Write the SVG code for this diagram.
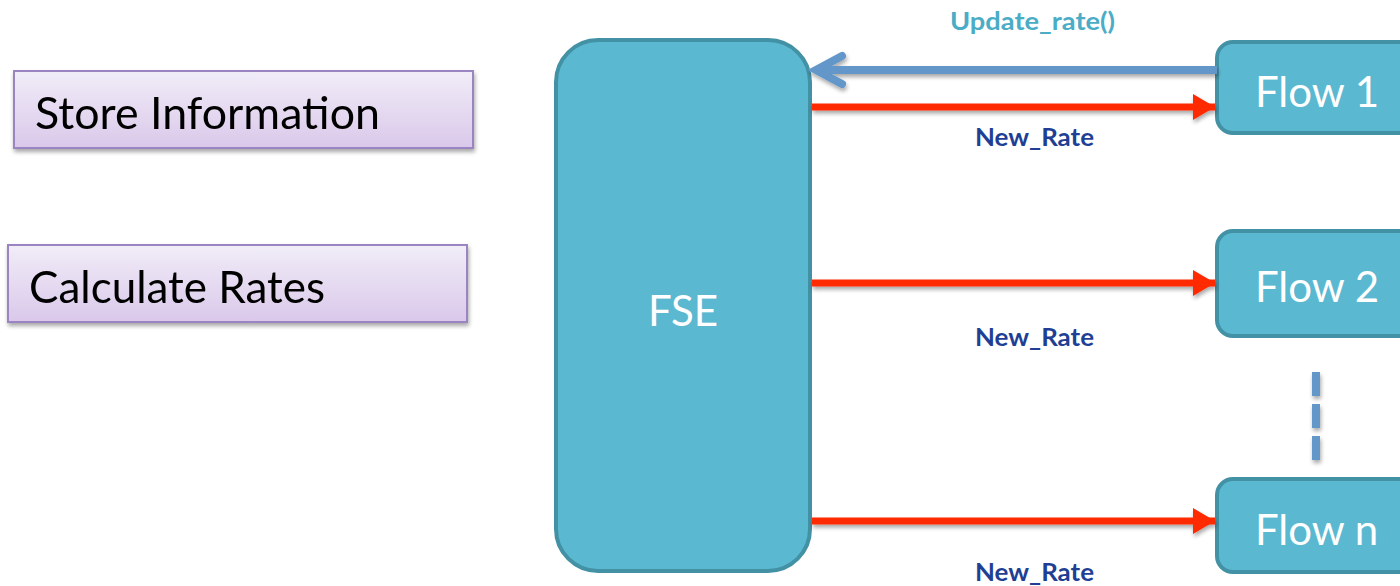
<svg xmlns="http://www.w3.org/2000/svg" width="1400" height="586" viewBox="0 0 1400 586">
  <defs>
    <linearGradient id="lav" x1="0" y1="0" x2="0" y2="1">
      <stop offset="0" stop-color="#f1edf8"/>
      <stop offset="1" stop-color="#dac8ea"/>
    </linearGradient>
    <filter id="shadow" x="-10%" y="-20%" width="120%" height="150%">
      <feGaussianBlur in="SourceAlpha" stdDeviation="2"/>
      <feOffset dx="1" dy="3" result="b"/>
      <feComponentTransfer><feFuncA type="linear" slope="0.35"/></feComponentTransfer>
      <feMerge><feMergeNode/><feMergeNode in="SourceGraphic"/></feMerge>
    </filter>
    <marker id="redHead" markerUnits="userSpaceOnUse" markerWidth="24" markerHeight="28" refX="22" refY="13" orient="auto">
      <path d="M0,0 L22,13 L0,26 Z" fill="#ff2a00"/>
    </marker>
  </defs>
  <style>
    .task { fill: url(#lav); stroke: #9b84c2; stroke-width: 2; }
    .task-text { font-family: Lato, "Open Sans", sans-serif; font-size: 44px; fill: #000; }
    .block { fill: #5bb8d1; stroke: #4391a4; stroke-width: 4; }
    .block-text { font-family: Lato, "Open Sans", sans-serif; font-size: 42px; fill: #fff; }
    .rate { stroke: #ff2a00; stroke-width: 7; fill: none; }
    .update { stroke: #6396c9; stroke-width: 8; fill: none; }
    .lbl { font-family: Lato, "Open Sans", sans-serif; font-weight: bold; font-size: 25px; }
  </style>

  <!-- left task boxes -->
  <g id="store-information" filter="url(#shadow)">
    <rect class="task" x="14" y="71" width="459" height="77"/>
    <text class="task-text" x="35" y="129" textLength="345" lengthAdjust="spacingAndGlyphs">Store Information</text>
  </g>
  <g id="calculate-rates" filter="url(#shadow)">
    <rect class="task" x="8" y="245" width="459" height="77"/>
    <text class="task-text" x="29" y="303" textLength="296" lengthAdjust="spacingAndGlyphs">Calculate Rates</text>
  </g>

  <!-- central estimator -->
  <g id="fse">
    <rect class="block" x="556" y="40" width="254" height="531" rx="42" ry="42"/>
    <text class="block-text" x="683" y="326" text-anchor="middle">FSE</text>
  </g>

  <!-- flows -->
  <g id="flow-1">
    <rect class="block" x="1217" y="42" width="200" height="91" rx="16" ry="16"/>
    <text class="block-text" x="1255" y="107">Flow 1</text>
  </g>
  <g id="flow-2">
    <rect class="block" x="1217" y="231" width="200" height="105" rx="16" ry="16"/>
    <text class="block-text" x="1255" y="302">Flow 2</text>
  </g>
  <g id="flow-n">
    <rect class="block" x="1217" y="479" width="200" height="93" rx="16" ry="16"/>
    <text class="block-text" x="1255" y="545">Flow n</text>
  </g>

  <!-- connectors -->
  <g id="connectors" filter="url(#shadow)">
    <path class="update" d="M1217,70 L816,70"/>
    <path class="update" stroke-linecap="round" stroke-linejoin="miter" d="M842,56 L816,70 L842,84"/>
    <path class="rate" d="M812,107 L1215,107" marker-end="url(#redHead)"/>
    <path class="rate" d="M812,283 L1215,283" marker-end="url(#redHead)"/>
    <path class="rate" d="M812,521 L1215,521" marker-end="url(#redHead)"/>
    <path class="update" stroke-width="7" stroke-dasharray="24,8" d="M1316,372 L1316,460"/>
  </g>

  <!-- labels -->
  <g id="labels">
    <text class="lbl" x="950" y="30" fill="#4bacc6" textLength="165" lengthAdjust="spacingAndGlyphs">Update_rate()</text>
    <text class="lbl" x="975" y="146" fill="#1f3f95" textLength="119" lengthAdjust="spacingAndGlyphs">New_Rate</text>
    <text class="lbl" x="975" y="346" fill="#1f3f95" textLength="119" lengthAdjust="spacingAndGlyphs">New_Rate</text>
    <text class="lbl" x="975" y="581" fill="#1f3f95" textLength="119" lengthAdjust="spacingAndGlyphs">New_Rate</text>
  </g>
</svg>
